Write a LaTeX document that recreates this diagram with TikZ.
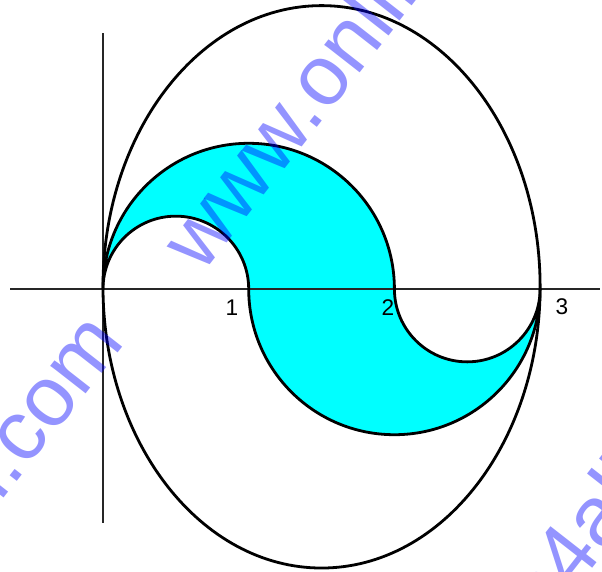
\documentclass[tikz,border=0pt]{standalone}
\usepackage{fontspec}
\setmainfont{Liberation Sans}
\begin{document}
\begin{tikzpicture}[x=109.275pt,y=109.275pt]
\definecolor{aqua}{RGB}{0,255,255}
\tikzset{
  curve/.style={line width=2.1pt, black, line join=round},
  axisline/.style={line width=1.1pt, black!85},
  lbl/.style={font=\fontsize{17}{20}\selectfont, inner sep=0pt},
  wm/.style={font=\fontsize{63.75}{70}\selectfont, text=blue, text opacity=0.42, rotate=52, inner sep=0pt}
}
\useasboundingbox (-0.7069,-1.9355) rectangle (3.4248,1.9835);
\clip (-0.7069,-1.9355) rectangle (3.4248,1.9835);
% points
\coordinate (O) at (0,0);
\coordinate (P1) at (1,0);
\coordinate (P2) at (2,0);
\coordinate (P3) at (3,0);
\coordinate (xl) at (-0.638,0);
\coordinate (xr) at (3.41,0);
\coordinate (yt) at (0,1.757);
\coordinate (yb) at (0,-1.606);
\coordinate (C) at (1.5,0.015);
% shaded region
\fill[aqua] (O) arc[start angle=180,end angle=0,radius=1]
  arc[start angle=180,end angle=360,radius=0.5]
  arc[start angle=0,end angle=-180,radius=1]
  arc[start angle=0,end angle=180,radius=0.5] -- cycle;
% axes
\draw[axisline] (xl) -- (xr);
\draw[axisline] (yt) -- (yb);
% curves
\draw[curve] (C) ellipse[x radius=1.5, y radius=1.93];
\draw[curve] (O) arc[start angle=180,end angle=0,radius=1]
  arc[start angle=180,end angle=360,radius=0.5]
  arc[start angle=0,end angle=-180,radius=1]
  arc[start angle=0,end angle=180,radius=0.5] -- cycle;
% labels
\node[lbl] (l1) at (0.885,-0.130) {1};
\node[lbl] (l2) at (1.956,-0.130) {2};
\node[lbl] (l3) at (3.150,-0.124) {3};
% watermark
\node[wm, anchor=base west] (wa) at (0.679,0.096) {www.onlinemath4all.com};
\node[wm, anchor=base east] (wb) at (0.158,-0.364) {www.onlinemath4all.com};
\node[wm, anchor=base west] (wc) at (0.618,-5.422) {www.onlinemath4all.com};
\end{tikzpicture}
\end{document}
